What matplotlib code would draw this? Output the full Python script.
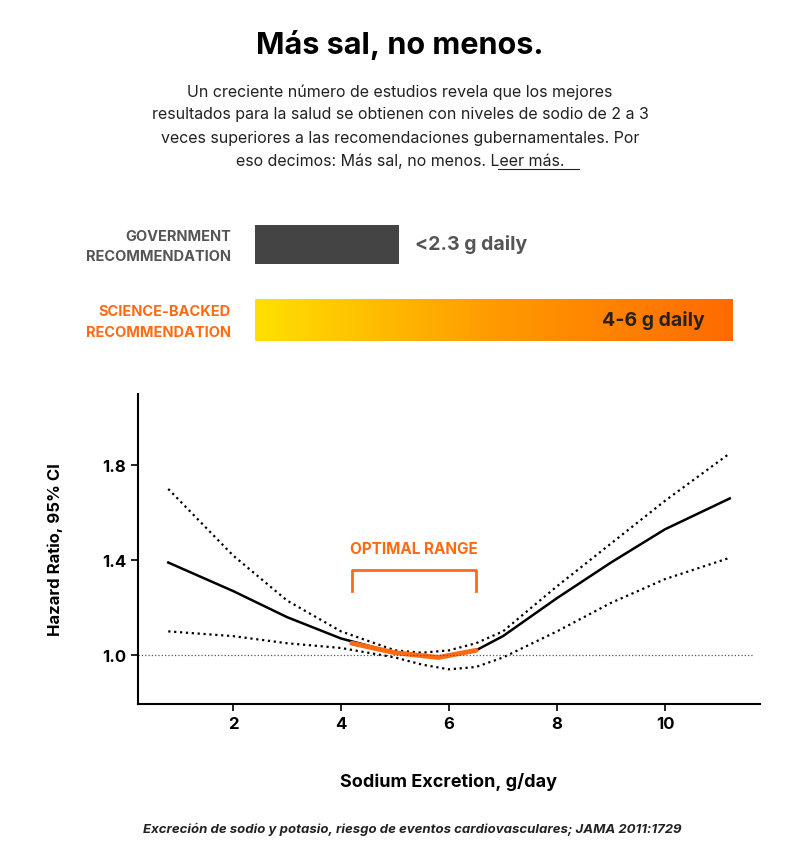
import matplotlib
matplotlib.use("Agg")
import matplotlib.pyplot as plt
import numpy as np
from matplotlib.colors import LinearSegmentedColormap

W, H = 800, 854
x_solid = [0.8, 2, 3, 4, 5, 5.8, 6.5, 7, 8, 9, 10, 11.2]
y_solid = [1.39, 1.27, 1.16, 1.07, 1.01, 0.99, 1.02, 1.08, 1.24, 1.39, 1.53, 1.66]
x_up = [0.8, 2, 3, 4, 5, 5.5, 6, 6.5, 7, 8, 9, 10, 11.2]
y_up = [1.70, 1.42, 1.23, 1.10, 1.02, 1.01, 1.02, 1.05, 1.10, 1.29, 1.47, 1.65, 1.85]
x_lo = [0.8, 2, 3, 4, 5, 5.5, 6, 6.5, 7, 8, 9, 10, 11.2]
y_lo = [1.10, 1.08, 1.05, 1.03, 0.99, 0.96, 0.94, 0.95, 0.99, 1.10, 1.22, 1.32, 1.41]
x_opt = [4.2, 5, 5.8, 6.5]
y_opt = [1.05, 1.01, 0.99, 1.02]
xticks = [2, 4, 6, 8, 10]
yticks = [1.0, 1.4, 1.8]

ORANGE = "#FF6A13"
F = "Inter"
fig = plt.figure(figsize=(8, 8.54), dpi=100)
fig.patch.set_facecolor("white")
def fx(px): return px / W
def fy(py): return 1 - py / H

fig.text(0.5, fy(45), "Más sal, no menos.", ha="center", va="center", fontsize=22, fontweight="bold", family=F)
lines = ["Un creciente número de estudios revela que los mejores",
         "resultados para la salud se obtienen con niveles de sodio de 2 a 3",
         "veces superiores a las recomendaciones gubernamentales. Por",
         "eso decimos: Más sal, no menos. Leer más."]
for i, l in enumerate(lines):
    fig.text(0.5, fy(92 + i * 23), l, ha="center", va="center", fontsize=11.5, family=F, color="#222")
fig.add_artist(plt.Line2D([fx(498), fx(579)], [fy(170), fy(170)], color="#222", lw=0.8))

kw = dict(ha="right", va="center", fontsize=10.5, fontweight="bold", family=F)
fig.text(fx(231), fy(237), "GOVERNMENT", color="#555", **kw)
fig.text(fx(231), fy(257), "RECOMMENDATION", color="#555", **kw)
fig.text(fx(231), fy(312), "SCIENCE-BACKED", color=ORANGE, **kw)
fig.text(fx(231), fy(333), "RECOMMENDATION", color=ORANGE, **kw)
ax_g = fig.add_axes([fx(255), fy(265), fx(144), (265 - 226) / H])
ax_g.set_facecolor("#444444"); ax_g.set_xticks([]); ax_g.set_yticks([])
for s in ax_g.spines.values(): s.set_visible(False)
fig.text(fx(415), fy(245), "<2.3 g daily", ha="left", va="center", fontsize=14, fontweight="bold", color="#555", family=F)
ax_s = fig.add_axes([fx(255), fy(342), fx(478), (342 - 300) / H])
cm = LinearSegmentedColormap.from_list("g", ["#FFE000", "#FF9A00", "#FF6A00"])
ax_s.imshow(np.linspace(0, 1, 256)[None, :], aspect="auto", cmap=cm, extent=[0, 1, 0, 1])
ax_s.set_xticks([]); ax_s.set_yticks([])
for s in ax_s.spines.values(): s.set_visible(False)
ax_s.text(0.94, 0.5, "4-6 g daily", ha="right", va="center", fontsize=14, fontweight="bold", color="#222", family=F, transform=ax_s.transAxes)

ax = fig.add_axes([fx(138), fy(705), fx(760 - 138), (705 - 395) / H])
ax.set_xlim(0.24, 11.76); ax.set_ylim(0.794, 2.10)
ax.plot(x_up, y_up, color="black", ls=":", lw=1.6)
ax.plot(x_lo, y_lo, color="black", ls=":", lw=1.6)
ax.plot(x_solid, y_solid, color="black", lw=1.8)
ax.plot(x_opt, y_opt, color=ORANGE, lw=3.5, solid_capstyle="round")
ax.axhline(1.0, color="#555", ls=":", lw=0.9, xmax=0.99)
ax.plot([4.2, 4.2, 6.5, 6.5], [1.27, 1.36, 1.36, 1.27], color=ORANGE, lw=2)
ax.text(5.35, 1.45, "OPTIMAL RANGE", ha="center", va="center", fontsize=11, fontweight="bold", color=ORANGE, family=F)
for s in ["top", "right"]: ax.spines[s].set_visible(False)
ax.spines["left"].set_linewidth(1.5); ax.spines["bottom"].set_linewidth(1.5)
ax.set_xticks(xticks); ax.set_yticks(yticks)
ax.set_yticklabels([f"{v:.1f}" for v in yticks])
ax.tick_params(labelsize=12, length=5, width=1.2)
for t in ax.get_xticklabels() + ax.get_yticklabels(): t.set_fontweight("bold"); t.set_family(F)
ax.set_ylabel("Hazard Ratio, 95% CI", fontsize=12, fontweight="bold", family=F, labelpad=28)
ax.set_xlabel("Sodium Excretion, g/day", fontsize=13, fontweight="bold", family=F, labelpad=30)
fig.text(fx(412), fy(829), "Excreción de sodio y potasio, riesgo de eventos cardiovasculares; JAMA 2011:1729",
         ha="center", va="center", fontsize=9.5, fontweight="bold", style="italic", family=F, color="#222")
fig.savefig("out.png", dpi=100)
